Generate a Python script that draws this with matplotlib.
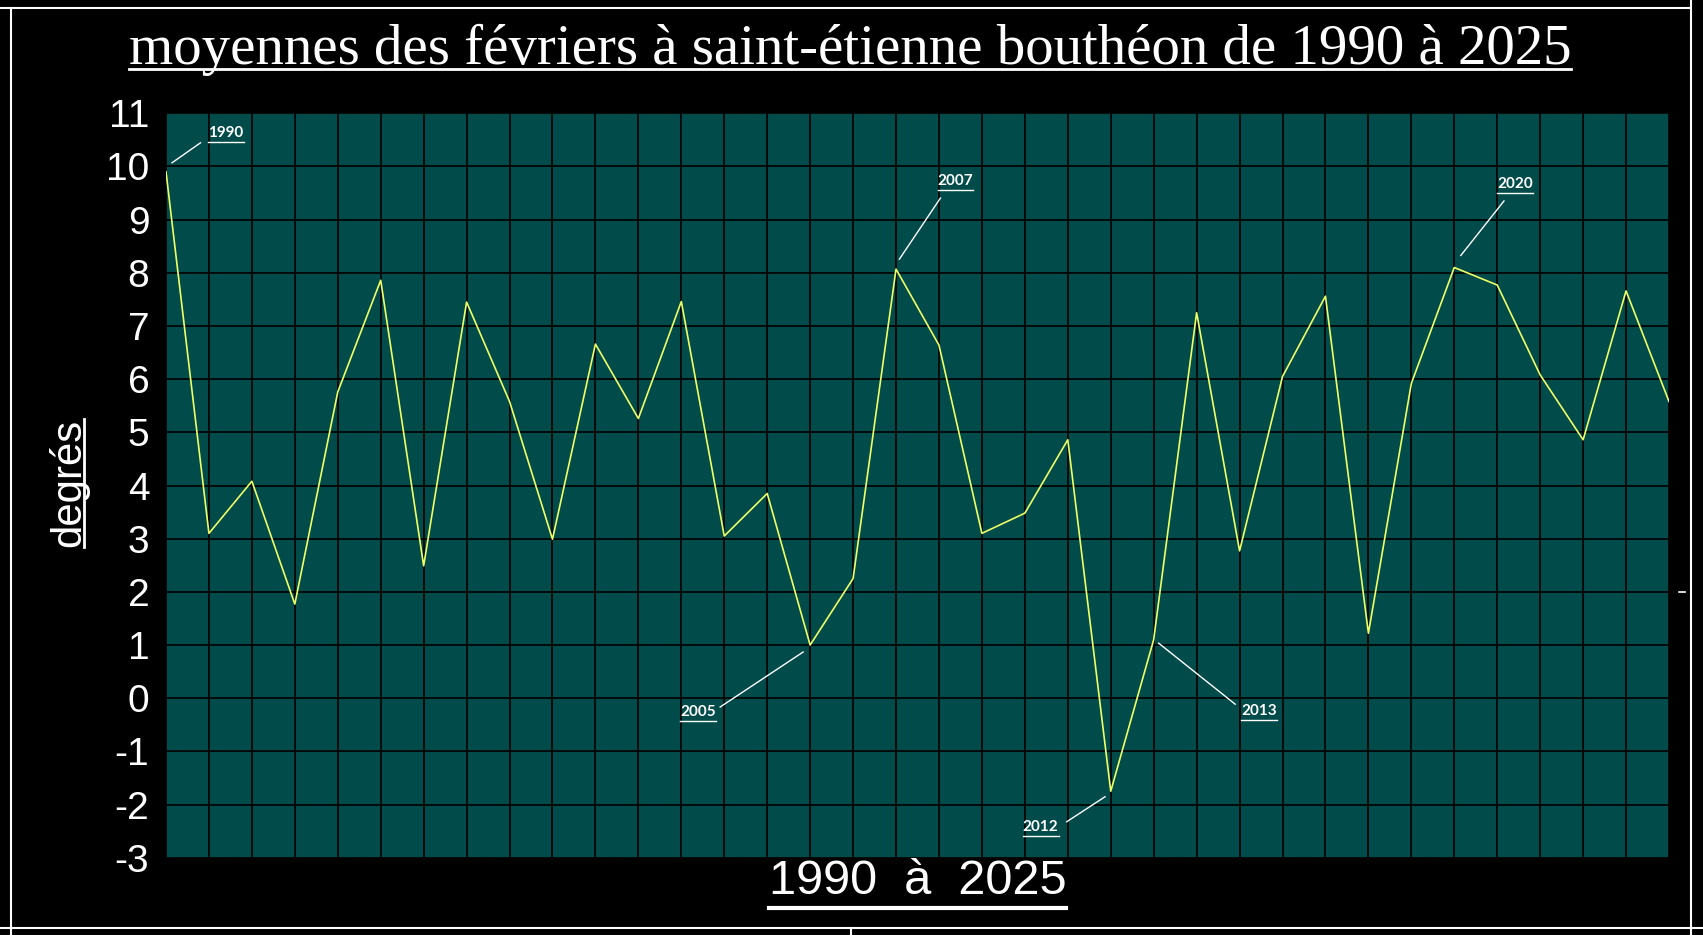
import matplotlib
matplotlib.use("Agg")
import matplotlib.pyplot as plt
from matplotlib.lines import Line2D
from matplotlib.transforms import Affine2D, ScaledTranslation, IdentityTransform

# ---------------- data ----------------
years = list(range(1990, 2026))
temps = [9.9, 3.1, 4.08, 1.77, 5.76, 7.86, 2.49, 7.45, 5.58, 2.99,
         6.66, 5.26, 7.46, 3.05, 3.85, 1.0, 2.25, 8.07, 6.64, 3.1,
         3.48, 4.86, -1.75, 1.1, 7.25, 2.77, 6.05, 7.56, 1.22, 5.92,
         8.1, 7.77, 6.08, 4.86, 7.66, 5.58]
y_ticks = list(range(-3, 12))
y_tick_labels = [str(v) for v in y_ticks]
annotated_years = [1990, 2005, 2007, 2012, 2013, 2020]
title_text = "moyennes des févriers à saint-étienne bouthéon de 1990 à 2025"
xlabel_text = "1990  à  2025"
ylabel_text = "degrés"

# ---------------- layout ----------------
W, H = 1703, 935
def fx(px): return px / W
def fy(py): return 1 - py / H

fig = plt.figure(figsize=(W / 100, H / 100), dpi=100, facecolor="black")
ax = fig.add_axes([fx(166), fy(857.7), fx(1669) - fx(166), fy(113.3) - fy(857.7)])
ax.set_facecolor("#014B4A")
ax.set_xlim(years[0], years[-1])
ax.set_ylim(y_ticks[0], y_ticks[-1])
ax.set_xticks(years)
ax.set_yticks(y_ticks)
ax.set_yticklabels(y_tick_labels, family="Liberation Sans", fontsize=28)
ax.grid(True, color="black", lw=1.2)
ax.set_axisbelow(True)
for s in ax.spines.values():
    s.set_visible(False)
ax.tick_params(axis="x", length=0, labelbottom=False)
ax.tick_params(axis="y", length=0, pad=12, labelcolor="white")

ax.plot(years, temps, color="#EEFF66", lw=1.2, zorder=3)

# annotation layout (pixel offsets relative to the data point, y up)
ann_layout = {
    1990: ((6, 9), (34.5, 29), (60, 39)),
    2005: ((-7, -7), (-90, -62), (-112, -67)),
    2007: ((3.4, 10), (44.4, 71), (59.5, 88)),
    2012: ((-5.7, -5.5), (-44, -30.5), (-70, -36)),
    2013: ((5, -3.5), (81.5, -64.5), (105.5, -71.5)),
    2020: ((6.5, 12), (49.7, 66.5), (61, 83.5)),
}
ann_texts = []
for yr in annotated_years:
    val = temps[years.index(yr)]
    (sx, sy), (ex, ey), (tx, ty) = ann_layout[yr]
    tr = Affine2D() + ScaledTranslation(yr, val, ax.transData)
    fig.add_artist(Line2D([sx, ex], [sy, ey], color="white", lw=1.0, transform=tr))
    t = ax.annotate(str(yr), xy=(yr, val), xytext=(tx, ty), textcoords="offset pixels",
                    ha="center", va="center", color="white", fontsize=11,
                    fontweight="bold", family="Lato", zorder=5)
    ann_texts.append(t)

# titles
title = fig.text(fx(850), fy(64), title_text, ha="center", va="baseline", color="white",
                 family="Liberation Serif", fontsize=40)
xlab = fig.text(fx(917.5), fy(894), xlabel_text, ha="center", va="baseline", color="white",
                family="Liberation Sans", fontsize=30)
ylab = fig.text(fx(80), fy(483), ylabel_text, ha="center", va="baseline", rotation=90,
                rotation_mode="anchor", color="white", family="Liberation Sans", fontsize=30)

fig.canvas.draw()
r = fig.canvas.get_renderer()

def fit(t, target, vertical=False):
    bb = t.get_window_extent(r)
    w = bb.height if vertical else bb.width
    t.set_fontsize(t.get_fontsize() * target / w)

fit(title, 1440)
fit(xlab, 298)
fit(ylab, 128, vertical=True)
fig.canvas.draw()

def underline(t, gap, lw, vertical=False):
    bb = t.get_window_extent(r)
    _, _, d = r.get_text_width_height_descent(t.get_text(), t.get_fontproperties(), False)
    if vertical:
        x = bb.x1 - d + gap
        ln = Line2D([x, x], [bb.y0, bb.y1], color="white", lw=lw, transform=IdentityTransform())
    else:
        y = bb.y0 + d - gap
        ln = Line2D([bb.x0, bb.x1], [y, y], color="white", lw=lw, transform=IdentityTransform())
    fig.add_artist(ln)

underline(title, 5, 2.0)
underline(xlab, 4, 3.0)
underline(ylab, 4, 2.0, vertical=True)
for t in ann_texts:
    underline(t, 2, 1.0)

# white frame lines
def fline(x0, y0, x1, y1, lw=1.5):
    fig.add_artist(Line2D([fx(x0), fx(x1)], [fy(y0), fy(y1)], color="white", lw=lw,
                          transform=fig.transFigure))

fline(0, 8.3, 1690, 8.3)
fline(1691, 0, 1691, 935)
fline(11, 8.3, 11, 935)
fline(0, 928, 1703, 928)
fline(851, 928, 851, 935)
fline(1679, 592, 1685, 592, lw=1.2)

fig.savefig("out.png", dpi=100, facecolor="black")
